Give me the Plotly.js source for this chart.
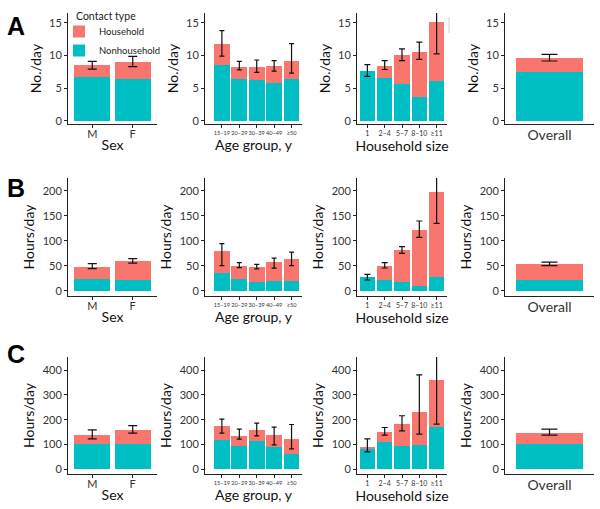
<!DOCTYPE html>
<html>
<head>
<meta charset="utf-8">
<script src="https://cdn.plot.ly/plotly-3.0.1.min.js"></script>
<style>html,body{margin:0;padding:0;background:#fff;}#chart{width:600px;height:509px;}</style>
</head>
<body>
<div id="chart"></div>
<script>
// ---- categories ----
const sexCats = ['M', 'F'];
const ageCats = ['15–19', '20–29', '30–39', '40–49', '≥50'];
const hhCats = ['1', '2–4', '5–7', '8–10', '≥11'];
const overallCats = ['Overall'];

// ---- Row A: contacts (No./day) ----
const aSexNon = [6.7, 6.35];
const aSexHh = [1.8, 2.65];
const aSexLo = [7.9, 8.3];
const aSexHi = [9.1, 9.85];

const aAgeNon = [8.6, 6.45, 6.25, 5.85, 6.4];
const aAgeHh = [3.1, 1.85, 2.05, 2.5, 2.8];
const aAgeLo = [9.9, 7.8, 7.4, 7.6, 7.3];
const aAgeHi = [13.8, 9.1, 9.3, 9.2, 11.8];

const aHhNon = [7.55, 6.55, 5.65, 3.7, 6.05];
const aHhHh = [0, 1.85, 4.45, 6.9, 9.05];
const aHhLo = [6.8, 7.85, 9.2, 9.4, 10.25];
const aHhHi = [8.6, 9.2, 11.0, 12.05, 16.9];

const aOvNon = [7.4];
const aOvHh = [2.2];
const aOvLo = [9.15];
const aOvHi = [10.15];

// ---- Row B: contact hours (Hours/day) ----
const bSexNon = [22.7, 20.7];
const bSexHh = [25.3, 39.3];
const bSexLo = [44, 55];
const bSexHi = [54, 64];

const bAgeNon = [34.7, 22.7, 18, 19.4, 19.4];
const bAgeHh = [44.7, 27.3, 29.4, 38, 43.3];
const bAgeLo = [50, 46, 43.5, 45, 50];
const bAgeHi = [94, 56, 52.5, 65, 77];

const bHhNon = [26.7, 21.4, 16.7, 10, 28];
const bHhHh = [0, 28.6, 64.7, 111.4, 168.7];
const bHhLo = [21.4, 45.4, 74.7, 106.7, 134.7];
const bHhHi = [32.7, 56, 88, 139.4, 230];

const bOvNon = [21.4];
const bOvHh = [32];
const bOvLo = [50];
const bOvHi = [57];

// ---- Row C: person-hours (Hours/day) ----
const cSexNon = [102.5, 102.5];
const cSexHh = [35.5, 56.5];
const cSexLo = [123, 146];
const cSexHi = [159, 176.5];

const cAgeNon = [118.7, 95.6, 116, 89, 63];
const cAgeHh = [55.3, 40.4, 43, 49, 58.5];
const cAgeLo = [146, 121.5, 135, 98.4, 82];
const cAgeHi = [202.5, 162, 186, 170, 180.6];

const cHhNon = [81, 110.6, 94.4, 97, 170];
const cHhHh = [10.5, 40.4, 87.6, 135, 189];
const cHhLo = [70, 137.7, 155, 141.7, 182];
const cHhHi = [122.7, 168.5, 216, 380.7, 465];

const cOvNon = [102.5];
const cOvHh = [45.5];
const cOvLo = [138];
const cOvHi = [162];

// ---- assembly ----
const W = 600, H = 509;
const TEAL = '#00BFC4', SALMON = '#F8766D';
const FONT = 'Lato, "Open Sans", sans-serif';

const colCats = [sexCats, ageCats, hhCats, overallCats];
const colTitles = ['Sex', 'Age group, y', 'Household size', ''];
const colTickSize = [11, 5.6, 7, 14];
const colTickStandoff = [-3, 0, 0, -2];
const colCap = [4.5, 2.5, 3, 8];
const colPx = [[68, 157], [205, 302], [357, 447], [505, 594]];
const colRange = [[-0.6, 1.6], [-0.97, 4.6], [-0.6, 4.6], [-0.6, 0.6]];

const rowPx = [[13, 124], [178, 296], [357, 474]];
const rowRange = [[-0.5, 16.5], [-10.6, 225.4], [-19, 453]];
const rowTicks = [[0, 5, 10, 15], [0, 50, 100, 150, 200], [0, 100, 200, 300, 400]];
const rowYTitle = ['No./day', 'Hours/day', 'Hours/day'];
const rowLetters = ['A', 'B', 'C'];

const panels = [
  [[aSexNon, aSexHh, aSexLo, aSexHi], [aAgeNon, aAgeHh, aAgeLo, aAgeHi], [aHhNon, aHhHh, aHhLo, aHhHi], [aOvNon, aOvHh, aOvLo, aOvHi]],
  [[bSexNon, bSexHh, bSexLo, bSexHi], [bAgeNon, bAgeHh, bAgeLo, bAgeHi], [bHhNon, bHhHh, bHhLo, bHhHi], [bOvNon, bOvHh, bOvLo, bOvHi]],
  [[cSexNon, cSexHh, cSexLo, cSexHi], [cAgeNon, cAgeHh, cAgeLo, cAgeHi], [cHhNon, cHhHh, cHhLo, cHhHi], [cOvNon, cOvHh, cOvLo, cOvHi]]
];

const traces = [];
const layout = {
  width: W, height: H,
  margin: {l: 0, r: 0, t: 0, b: 0},
  paper_bgcolor: '#fff', plot_bgcolor: 'rgba(0,0,0,0)',
  barmode: 'stack', bargap: 0.1,
  font: {family: FONT, color: '#222', size: 11},
  showlegend: true,
  legend: {
    x: 59 / W, y: 1 - 17 / H, xanchor: 'left', yanchor: 'top',
    bgcolor: 'rgba(0,0,0,0)',
    font: {size: 9.5, color: '#222', family: FONT},
    traceorder: 'reversed',
    itemwidth: 30
  },
  annotations: [{
    text: 'Contact type', xref: 'paper', yref: 'paper',
    x: 74 / W, y: 1 - 16 / H, xanchor: 'left', yanchor: 'middle',
    showarrow: false, font: {size: 10.5, color: '#222', family: FONT}
  }],
  shapes: []
};

for (let r = 0; r < 3; r++) {
  for (let c = 0; c < 4; c++) {
    const n = r * 4 + c + 1;
    const sfx = n === 1 ? '' : String(n);
    const cats = colCats[c];
    const [non, hh, lo, hi] = panels[r][c];
    const tot = non.map((v, i) => v + hh[i]);
    const first = (n === 1);

    traces.push({
      type: 'bar', x: cats, y: non, name: 'Nonhousehold',
      marker: {color: TEAL}, xaxis: 'x' + sfx, yaxis: 'y' + sfx,
      legendgroup: 'non', showlegend: first, hoverinfo: 'skip'
    });
    traces.push({
      type: 'bar', x: cats, y: hh, name: 'Household',
      marker: {color: SALMON}, xaxis: 'x' + sfx, yaxis: 'y' + sfx,
      legendgroup: 'hh', showlegend: first, hoverinfo: 'skip'
    });
    traces.push({
      type: 'scatter', mode: 'markers', x: cats, y: tot,
      marker: {size: 1, color: 'rgba(0,0,0,0)'},
      error_y: {
        type: 'data', symmetric: false,
        array: hi.map((v, i) => v - tot[i]),
        arrayminus: lo.map((v, i) => tot[i] - v),
        color: '#111', thickness: 1.2, width: colCap[c]
      },
      xaxis: 'x' + sfx, yaxis: 'y' + sfx, showlegend: false, hoverinfo: 'skip'
    });

    layout['xaxis' + sfx] = {
      domain: [colPx[c][0] / W, colPx[c][1] / W],
      anchor: 'y' + sfx, type: 'category', range: colRange[c],
      showline: true, linecolor: '#222', linewidth: 1,
      ticks: c === 3 ? '' : 'outside', ticklen: 3, tickcolor: '#222',
      tickangle: 0, ticklabelstandoff: colTickStandoff[c],
      tickfont: {size: colTickSize[c], color: '#333', family: FONT},
      showgrid: false, zeroline: false, automargin: false, fixedrange: true,
      title: {text: colTitles[c], font: {size: 14, color: '#111', family: FONT}, standoff: 0}
    };
    layout['yaxis' + sfx] = {
      domain: [1 - rowPx[r][1] / H, 1 - rowPx[r][0] / H],
      anchor: 'x' + sfx, range: rowRange[r],
      tickvals: rowTicks[r],
      showline: true, linecolor: '#222', linewidth: 1,
      ticks: 'outside', ticklen: 3, tickcolor: '#222',
      tickfont: {size: 11, color: '#333', family: FONT},
      showgrid: false, zeroline: false, automargin: false, fixedrange: true,
      title: {text: rowYTitle[r], font: {size: 14, color: '#111', family: FONT}, standoff: 4}
    };
  }
  layout.annotations.push({
    text: '<b>' + rowLetters[r] + '</b>', xref: 'paper', yref: 'paper',
    x: 16 / W, y: 1 - [26, 188, 354][r] / H, xanchor: 'center', yanchor: 'middle',
    showarrow: false, font: {size: 25, color: '#000', family: 'Liberation Sans, Arial, sans-serif'}
  });
}

// stray grey tick-like line at the top right of panel A, household size
layout.shapes.push({type: 'line', xref: 'paper', yref: 'paper',
  x0: 449 / W, x1: 449 / W, y0: 1 - 17 / H, y1: 1 - 33 / H,
  line: {color: '#d0d0d0', width: 1}});

Plotly.newPlot('chart', traces, layout, {staticPlot: true, displayModeBar: false});
</script>
</body>
</html>
